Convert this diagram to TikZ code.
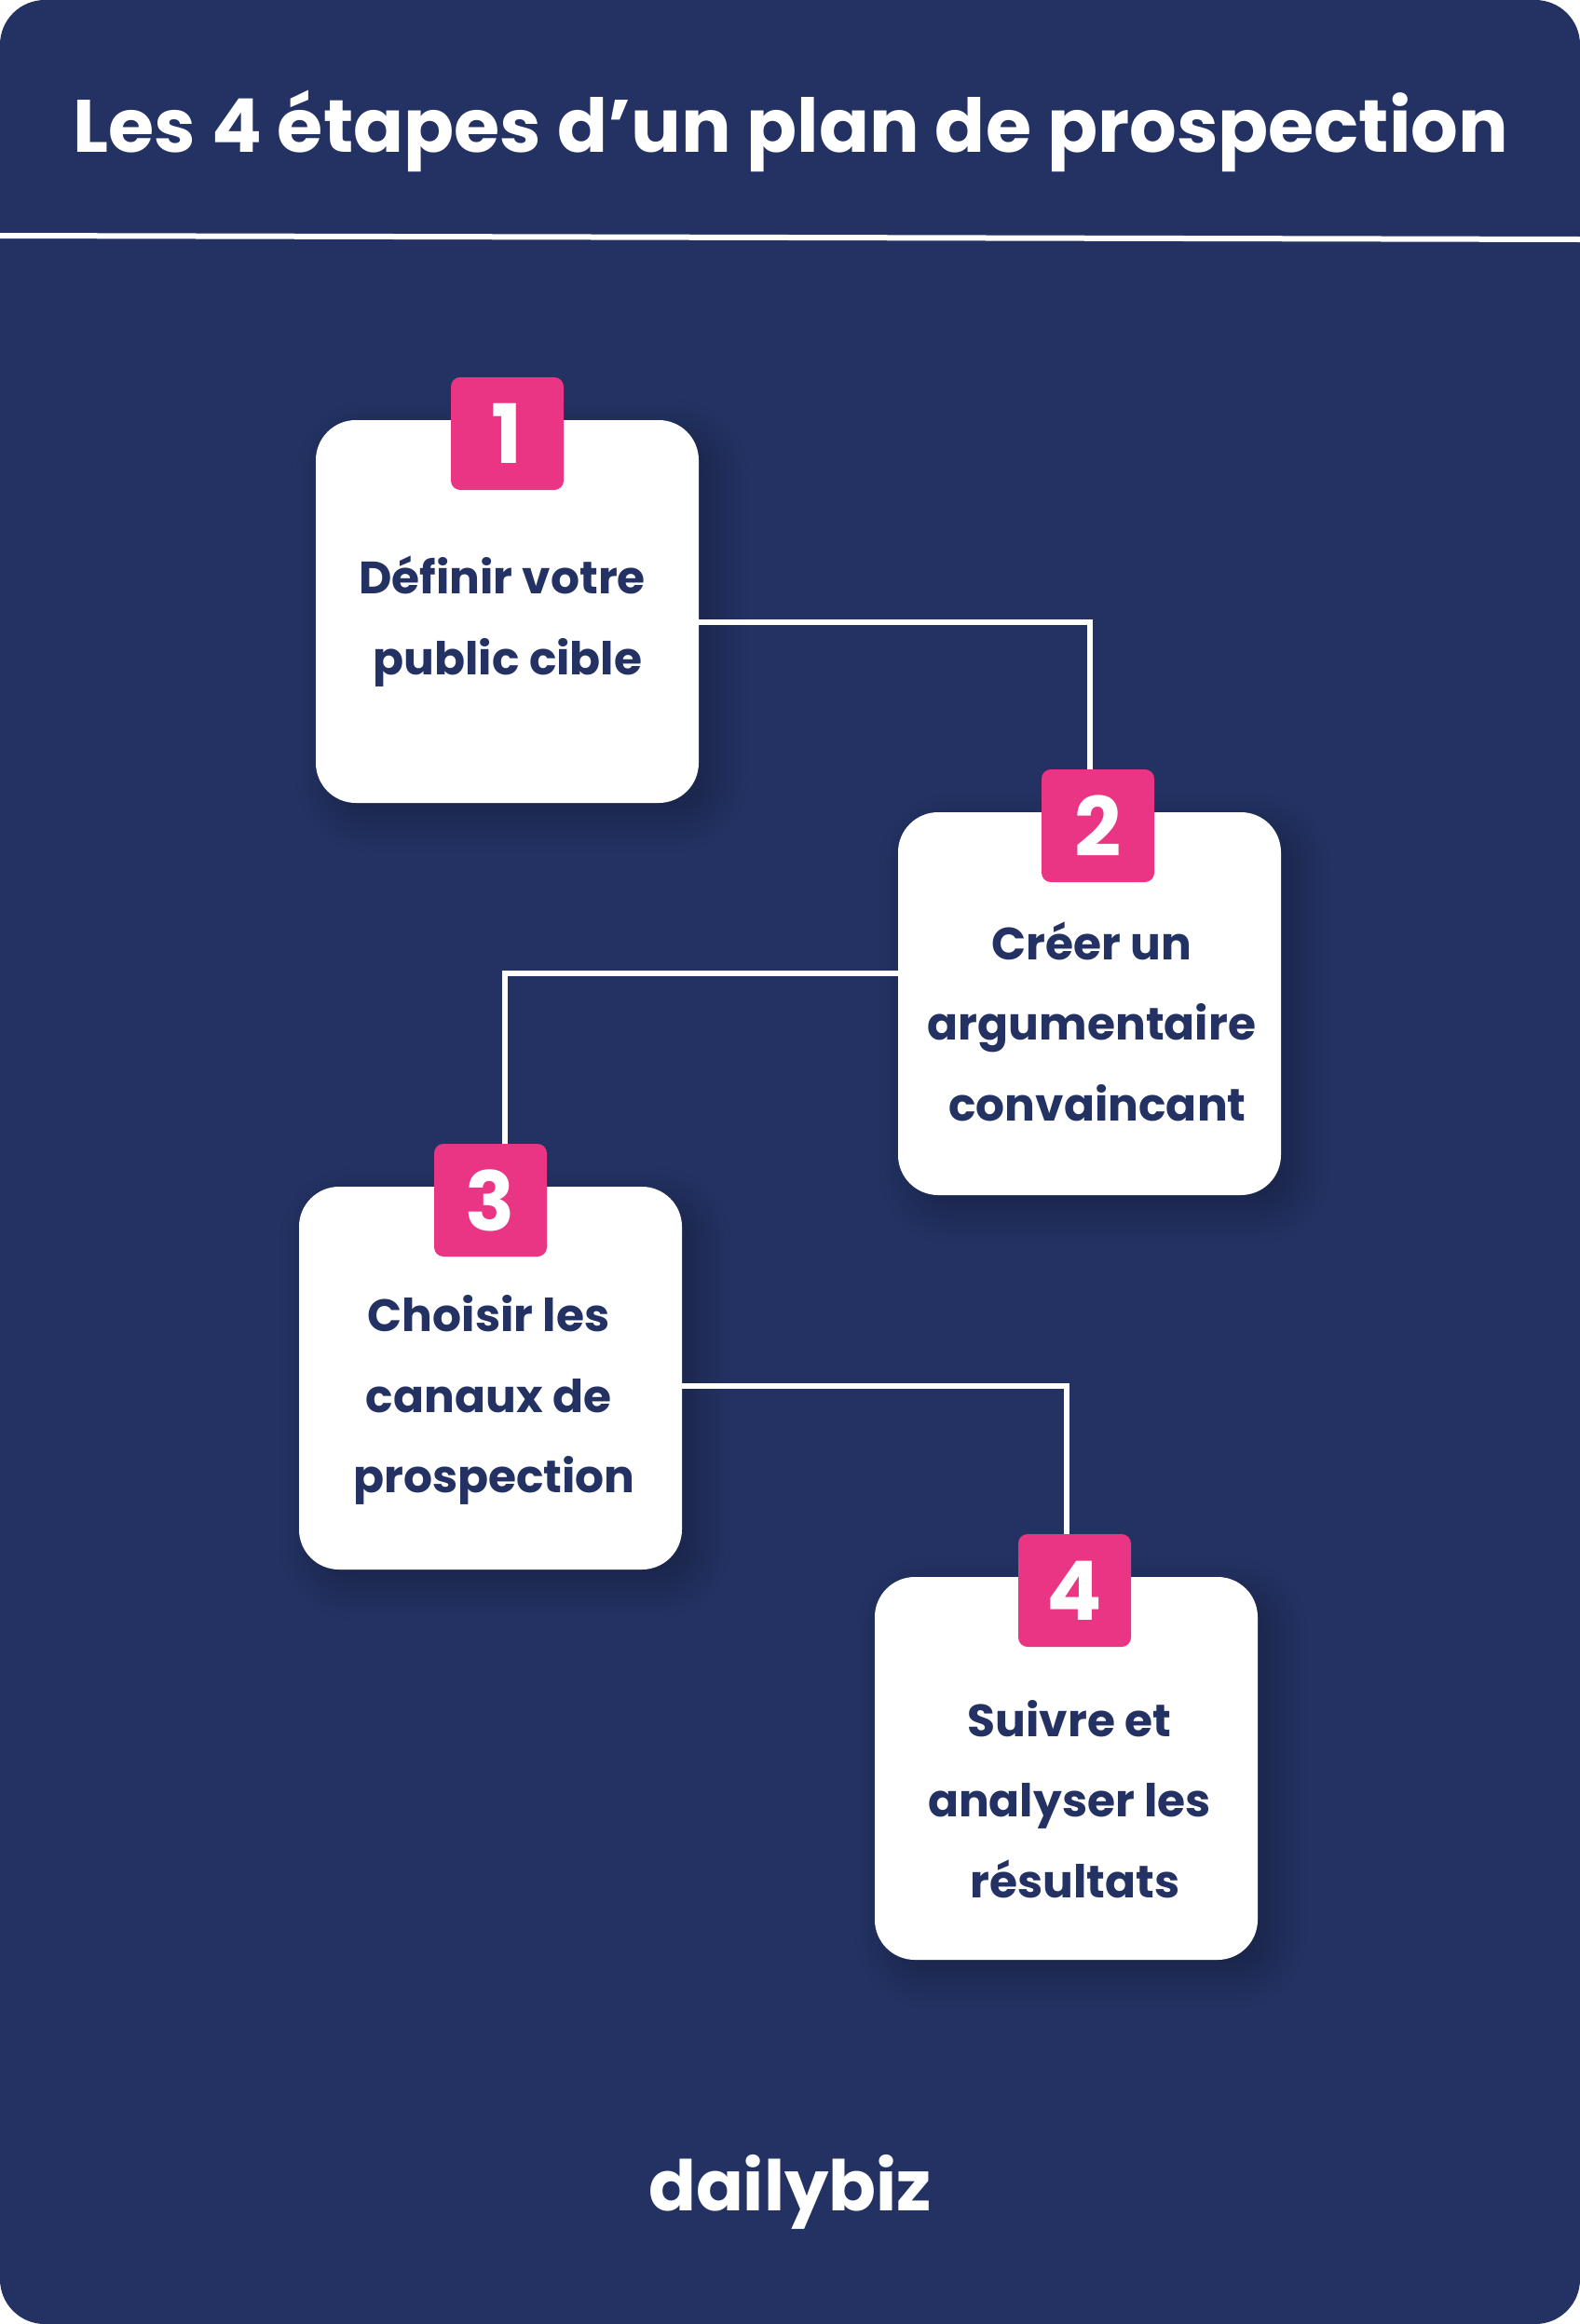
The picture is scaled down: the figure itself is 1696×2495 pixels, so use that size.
\documentclass[tikz,border=0pt]{standalone}
\usepackage{fontspec}
\setmainfont{Poppins}
\usetikzlibrary{shadows.blur}
\definecolor{navy}{HTML}{233263}
\definecolor{rose}{HTML}{E93583}

\begin{document}
\begin{tikzpicture}[x=1pt,y=-1pt,
card/.style={fill=white,rounded corners=43pt,minimum size=411pt,inner sep=0pt,
  blur shadow={shadow xshift=16pt,shadow yshift=-16pt,shadow blur radius=36pt,shadow opacity=30,shadow blur steps=14}},
badge/.style={fill=rose,rounded corners=10pt,minimum size=121pt,inner sep=0pt,text=white,
  font=\fontsize{88}{88}\selectfont\bfseries},
cardtext/.style={text=navy,align=center,inner sep=0pt,
  font=\fontsize{48.7}{86.5}\selectfont\bfseries},
link/.style={draw=white,line width=6pt}]

\useasboundingbox (0,0) rectangle (1696,2495);
\fill[white] (0,0) rectangle (1696,2495);
\fill[navy,rounded corners=48pt] (0,0) rectangle (1696,2495);

\node[anchor=base,text=white,inner sep=0pt,font=\fontsize{79.7}{80}\selectfont\bfseries] (title) at (849,163)
  {Les 4 étapes d’un plan de prospection};
\coordinate (ruleleft) at (0,253);
\coordinate (ruleright) at (1696,257);
\draw[link] (ruleleft) -- (ruleright);

% the connectors run under the cards
\coordinate (bendA) at (1170,668);
\coordinate (bendB) at (542,1045);
\coordinate (bendC) at (1145,1488);

\node[card] (card1) at (544.5,656.5) {};
\node[card] (card2) at (1169.5,1077.5) {};
\node[card] (card3) at (526.5,1479.5) {};
\node[card] (card4) at (1144.5,1898.5) {};

\node[badge] (badge1) at (544.5,465.5) {1};
\node[badge] (badge2) at (1178.5,886.5) {2};
\node[badge] (badge3) at (526.5,1288.5) {3};
\node[badge] (badge4) at (1153.5,1707.5) {4};

\draw[link] (card1.east |- bendA) -- (bendA) -- (bendA |- badge2.north);
\draw[link] (card2.west |- bendB) -- (bendB) -- (bendB |- badge3.north);
\draw[link] (card3.east |- bendC) -- (bendC) -- (bendC |- badge4.north);

\node[cardtext] (text1) at (539,667) {Définir votre\\\hspace*{12pt}public cible};
\node[cardtext] (text2) at (1172,1096.5) {Créer un\\argumentaire\\\hspace*{12pt}convaincant};
\node[cardtext] (text3) at (524.5,1503) {Choisir les\\canaux de\\\hspace*{12pt}prospection};
\node[cardtext] (text4) at (1148,1931.5) {Suivre et\\analyser les\\\hspace*{12pt}résultats};

\node[anchor=base,text=white,inner sep=0pt,font=\fontsize{75}{75}\selectfont\bfseries] (logo) at (848,2373) {dailybiz};
\end{tikzpicture}
\end{document}
